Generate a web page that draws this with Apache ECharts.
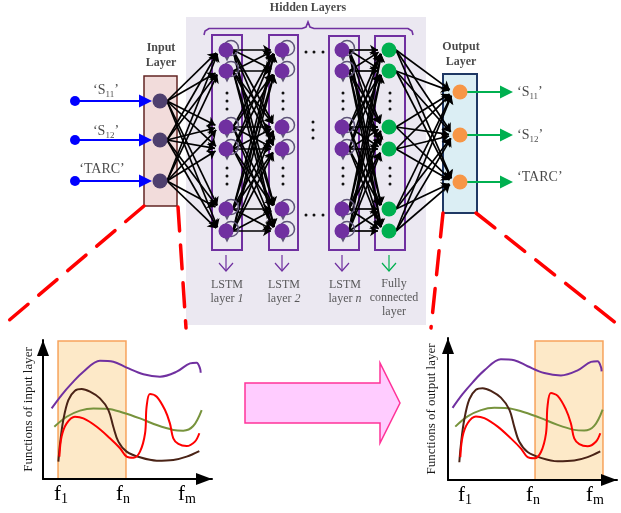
<!DOCTYPE html>
<html><head><meta charset="utf-8">
<script src="https://cdn.jsdelivr.net/npm/echarts@6/dist/echarts.min.js"></script>
<style>html,body{margin:0;padding:0;background:#fff}#c{width:621px;height:513px}</style>
</head><body><div id="c"></div>
<script>
// ---------------- DATA ----------------
const ioSignals = [['S', '11'], ['S', '12'], ['TARC', '']];
const hiddenTitle = 'Hidden Layers';
const inputTitle = ['Input', 'Layer'];
const outputTitle = ['Output', 'Layer'];
const hiddenLayerNames = [['LSTM', 'layer', '1'], ['LSTM', 'layer', '2'], ['LSTM', 'layer', 'n'], ['Fully', 'connected', 'layer']];
const hiddenLayerKinds = ['lstm', 'lstm', 'lstm', 'fc'];
const freqTicks = [['f', '1'], ['f', 'n'], ['f', 'm']];
const inputAxisName = 'Functions of input layer';
const outputAxisName = 'Functions of output layer';
const inputTickAt = [10.7, 47.3, 85.2];
const outputTickAt = [12.5, 52.7, 89.4];
const inputWindow = [8.9, 49.1, 99.3];
const outputWindow = [53.9, 94.1, 97.9];

const curvePurple = [[5.1,50.8],[11.0,60.4],[17.0,68.8],[23.9,77.2],[33.7,85.1],[41.6,84.4],[49.5,80.1],[59.4,75.3],[69.2,73.6],[79.1,77.2],[87.0,83.2],[90.9,83.7],[92.9,79.6],[93.3,76.5]];
const curveGreen = [[6.7,37.6],[14.0,44.8],[21.9,49.2],[29.8,50.8],[37.7,50.6],[47.5,47.7],[57.4,43.6],[67.3,38.8],[77.1,35.3],[83.0,34.8],[88.9,38.1],[93.9,49.6]];
const curveBrown = [[9.1,12.5],[10.1,25.7],[12.0,42.4],[15.0,56.8],[18.9,63.5],[22.9,64.7],[27.8,62.8],[33.7,58.0],[38.7,49.6],[41.6,37.6],[44.6,26.9],[49.5,19.7],[57.4,15.6],[67.3,13.2],[77.1,13.7],[85.0,16.1],[92.5,20.1]];
const curveRed = [[9.7,16.1],[11.0,30.5],[14.0,40.0],[18.9,44.8],[23.9,43.6],[31.8,37.6],[39.6,29.3],[45.6,22.1],[49.5,16.1],[53.5,15.3],[57.4,19.7],[60.4,32.9],[61.3,52.0],[63.3,61.2],[67.3,59.2],[72.2,49.6],[75.1,40.0],[77.1,29.3],[80.1,25.2],[85.0,23.7],[89.9,26.9],[92.5,32.9]];

// ---------------- LAYOUT ----------------
const FONT = '"Liberation Serif", "Times New Roman", serif';
const L = {
  panel: [[186, 17], [426, 325]],
  inBox: [[144, 76], [177, 206]],
  outBox: [[443, 74], [477, 213]],
  inX: 160, inY: [101, 140, 181],
  outX: 460, outY: [92, 135, 182],
  srcX: 75, inTip: 152, outFrom: 467, outTip: 513,
  colX: [226, 282, 342, 389],
  colBox: [[[212, 35], [242, 250]], [[269, 35], [298, 250]], [[329, 36], [359, 250]], [[375, 36], [405, 250]]],
  nodeY: [50, 71, 127, 149, 209, 231],
  r: 7,
  dotsY: [93, 101, 109, 168, 176, 184],
  midDots: [[306, 52], [314, 52], [323, 52], [313, 122], [313, 130], [313, 138], [306, 215], [314, 215], [323, 215]],
  chevTop: 255, chevBot: 271,
  labelX: [227, 284, 345, 394],
  labelY: [285, 299, 313],
  inLabel: [[106, 90], [106, 131], [102, 169]],
  outLabelX: 517, outLabelY: [92, 135, 177],
  bigArrow: [[245, 383], [380, 383], [380, 363], [400, 403], [380, 443], [380, 423], [245, 423]],
  brace: [[204, 35], [205, 31], [209, 28.5], [302, 28.5], [306, 27], [308, 22], [310, 27], [314, 28.5], [408, 28.5], [412, 31], [413, 35]],
  red: [[[144, 206], [0, 328]], [[178, 207], [186, 328]], [[443, 213], [431, 328]], [[476, 213], [621, 327]]]
};
const COL = { lstm: '#7030a0', fc: '#00b050', inNode: '#4f406e', outNode: '#f79646', loop: '#5e5478' };

// ---------------- BUILD ----------------
const OV = { xAxisIndex: 2, yAxisIndex: 2 };
const backShapes = [];
backShapes.push({ kind: 'rect', pts: L.panel, style: { fill: '#ebe8f1' } });
backShapes.push({ kind: 'rect', pts: L.inBox, style: { fill: '#f2dcdb', stroke: '#632523', lineWidth: 1.5 } });
backShapes.push({ kind: 'rect', pts: L.outBox, style: { fill: '#dbeef4', stroke: '#1f3864', lineWidth: 2 } });
L.colBox.forEach(b => backShapes.push({ kind: 'rect', pts: b, style: { fill: null, stroke: '#7030a0', lineWidth: 2 } }));
backShapes.push({ kind: 'polyline', pts: L.brace, style: { fill: null, stroke: '#7030a0', lineWidth: 1.6 } });
L.colX.forEach((x, i) => {
  const c = hiddenLayerKinds[i] === 'fc' ? COL.fc : COL.lstm;
  backShapes.push({ kind: 'polyline', pts: [[x, L.chevTop], [x, L.chevBot]], style: { fill: null, stroke: c, lineWidth: 1.2 } });
  backShapes.push({ kind: 'polyline', pts: [[x - 7, L.chevBot - 8], [x, L.chevBot], [x + 7, L.chevBot - 8]], style: { fill: null, stroke: c, lineWidth: 1.2 } });
});
backShapes.push({ kind: 'polygon', pts: L.bigArrow, style: { fill: '#ffccff', stroke: '#ff3399', lineWidth: 1.5 } });

function shapeRender(list) {
  return function (params, api) {
    const s = list[params.dataIndex];
    const pts = s.pts.map(p => api.coord(p));
    if (s.kind === 'rect') {
      return { type: 'rect', shape: { x: pts[0][0], y: pts[0][1], width: pts[1][0] - pts[0][0], height: pts[1][1] - pts[0][1] }, style: s.style };
    }
    return { type: s.kind, shape: { points: pts }, style: s.style };
  };
}

const AS = 8;
function connect(xs, ysArr, xt, ytArr) {
  const out = [];
  ysArr.forEach(ys => ytArr.forEach(yt => {
    const x0 = xs + L.r, x1 = xt - L.r;
    const dx = x1 - x0, dy = yt - ys, len = Math.hypot(dx, dy);
    out.push({ coords: [[x0, ys], [x1 - dx / len * AS / 2, yt - dy / len * AS / 2]] });
  }));
  return out;
}
const edges = [].concat(
  connect(L.inX, L.inY, L.colX[0], L.nodeY),
  connect(L.colX[0], L.nodeY, L.colX[1], L.nodeY),
  connect(L.colX[2], L.nodeY, L.colX[3], L.nodeY),
  connect(L.colX[3], L.nodeY, L.outX, L.outY)
);
const TS = 13;
const blueArrows = L.inY.map(y => ({ coords: [[L.srcX, y], [L.inTip - TS / 2, y]] }));
const greenArrows = L.outY.map(y => ({ coords: [[L.outFrom, y], [L.outTip - TS / 2, y]] }));

const nodes = [], loops = [], loopTips = [], dots = [];
L.inY.forEach(y => nodes.push({ value: [L.inX, y], itemStyle: { color: COL.inNode } }));
L.outY.forEach(y => nodes.push({ value: [L.outX, y], itemStyle: { color: COL.outNode } }));
L.colX.forEach((x, i) => {
  const kind = hiddenLayerKinds[i];
  L.nodeY.forEach(y => {
    nodes.push({ value: [x, y], itemStyle: { color: kind === 'fc' ? COL.fc : COL.lstm } });
    if (kind === 'lstm') { loops.push([x + 5, y - 2]); loopTips.push([x + 1, y + 9]); }
  });
  L.dotsY.forEach(y => dots.push([x + 1, y]));
});
L.midDots.forEach(p => dots.push(p));

function sig(s) { return '{mn|\u2018' + s[0] + '}' + (s[1] ? '{sb|' + s[1] + '}' : '') + '{mn|\u2019}'; }
const texts = [];
texts.push({ value: [308, 8], label: { formatter: '{hb|' + hiddenTitle + '}' } });
texts.push({ value: [161, 48], label: { formatter: '{hb|' + inputTitle[0] + '}' } });
texts.push({ value: [161, 63], label: { formatter: '{hb|' + inputTitle[1] + '}' } });
texts.push({ value: [461, 47], label: { formatter: '{hb|' + outputTitle[0] + '}' } });
texts.push({ value: [461, 62], label: { formatter: '{hb|' + outputTitle[1] + '}' } });
ioSignals.forEach((s, i) => {
  texts.push({ value: L.inLabel[i], label: { formatter: sig(s) } });
  texts.push({ value: [L.outLabelX, L.outLabelY[i]], label: { formatter: sig(s), align: 'left' } });
});
hiddenLayerNames.forEach((n, i) => {
  const x = L.labelX[i];
  if (hiddenLayerKinds[i] === 'lstm') {
    texts.push({ value: [x, L.labelY[0]], label: { formatter: '{tx|' + n[0] + '}' } });
    texts.push({ value: [x, L.labelY[1]], label: { formatter: '{tx|' + n[1] + ' }{it|' + n[2] + '}' } });
  } else {
    n.forEach((t, k) => texts.push({ value: [x, L.labelY[k] - 1], label: { formatter: '{tx|' + t + '}' } }));
  }
});

function plotAxes(gi, ticksAt, xmin, name, gap) {
  const arrowLine = { show: true, onZero: true, lineStyle: { color: '#000', width: 2 }, symbol: ['none', 'triangle'], symbolSize: [12, 16], symbolOffset: [0, -8] };
  return {
    x: {
      type: 'value', gridIndex: gi, min: xmin, max: xmin + 100, z: 3,
      axisLine: arrowLine, axisTick: { show: false }, splitLine: { show: false },
      axisLabel: {
        show: true, customValues: ticksAt, margin: 3, color: '#000',
        formatter: function (v) {
          let i = 0, best = 1e9;
          ticksAt.forEach((t, k) => { if (Math.abs(t - v) < best) { best = Math.abs(t - v); i = k; } });
          return '{ff|' + freqTicks[i][0] + '}{fs|' + freqTicks[i][1] + '}';
        },
        rich: {
          ff: { fontSize: 21, fontFamily: FONT, lineHeight: 24, color: '#000' },
          fs: { fontSize: 14, fontFamily: FONT, lineHeight: 14, verticalAlign: 'bottom', color: '#000' }
        }
      }
    },
    y: {
      type: 'value', gridIndex: gi, min: 0, max: 100, z: 3,
      axisLine: arrowLine, axisTick: { show: false }, splitLine: { show: false }, axisLabel: { show: false },
      name: name, nameLocation: 'middle', nameRotate: 90, nameGap: gap,
      nameTextStyle: { fontFamily: FONT, fontSize: 13, color: '#1a1a1a' }
    }
  };
}
const A0 = plotAxes(0, inputTickAt, 0, inputAxisName, 8);
const A1 = plotAxes(1, outputTickAt, 2.4, outputAxisName, 10);

function windowSeries(xi, w) {
  return {
    type: 'custom', xAxisIndex: xi, yAxisIndex: xi, z: 1, silent: true, data: [[0, 0]],
    renderItem: function (params, api) {
      const a = api.coord([w[0], w[2]]), b = api.coord([w[1], 0]);
      return { type: 'rect', shape: { x: a[0], y: a[1], width: b[0] - a[0], height: b[1] - a[1] }, style: { fill: '#fde9c8', stroke: '#f7a35c', lineWidth: 1.5 } };
    }
  };
}
function curveSeries(xi) {
  const defs = [[curvePurple, '#7030a0'], [curveGreen, '#77933c'], [curveBrown, '#4a2316'], [curveRed, '#ff0000']];
  return defs.map(d => ({
    type: 'line', xAxisIndex: xi, yAxisIndex: xi, z: 4, data: d[0], smooth: 0.35, showSymbol: false, silent: true,
    lineStyle: { color: d[1], width: 2 }
  }));
}

const option = {
  animation: false,
  backgroundColor: '#ffffff',
  tooltip: { show: false },
  grid: [
    { left: 43, top: 340, width: 169, height: 139, containLabel: false },
    { left: 448, top: 338, width: 169, height: 142, containLabel: false },
    { left: 0, top: 0, width: 621, height: 513, containLabel: false }
  ],
  xAxis: [A0.x, A1.x, { type: 'value', gridIndex: 2, min: 0, max: 621, show: false }],
  yAxis: [A0.y, A1.y, { type: 'value', gridIndex: 2, min: 0, max: 513, inverse: true, show: false }],
  series: [
    Object.assign({ type: 'custom', z: 1, silent: true, data: backShapes.map(() => [0, 0]), renderItem: shapeRender(backShapes) }, OV),
    windowSeries(0, inputWindow),
    windowSeries(1, outputWindow),
    ...curveSeries(0),
    ...curveSeries(1),
    Object.assign({ type: 'lines', coordinateSystem: 'cartesian2d', z: 2, silent: true, symbol: ['none', 'arrow'], symbolSize: [0, AS],
      lineStyle: { color: '#000', width: 1.7, opacity: 1, curveness: 0 }, data: edges }, OV),
    Object.assign({ type: 'lines', coordinateSystem: 'cartesian2d', z: 2, silent: true, symbol: ['circle', 'triangle'], symbolSize: [10, TS],
      lineStyle: { color: '#0000ff', width: 2.2, opacity: 1 }, data: blueArrows }, OV),
    Object.assign({ type: 'lines', coordinateSystem: 'cartesian2d', z: 2, silent: true, symbol: ['none', 'triangle'], symbolSize: [0, TS],
      lineStyle: { color: '#00b050', width: 2.2, opacity: 1 }, data: greenArrows }, OV),
    Object.assign({ type: 'scatter', z: 3, silent: true, symbol: 'circle', symbolSize: 15, data: loops,
      itemStyle: { color: 'rgba(0,0,0,0)', borderColor: COL.loop, borderWidth: 1.5, opacity: 1 } }, OV),
    Object.assign({ type: 'scatter', z: 3, silent: true, symbol: 'triangle', symbolRotate: 180, symbolSize: 5, data: loopTips,
      itemStyle: { color: COL.loop, opacity: 1 } }, OV),
    Object.assign({ type: 'scatter', z: 4, silent: true, symbol: 'circle', symbolSize: 15, data: nodes, itemStyle: { opacity: 1 } }, OV),
    Object.assign({ type: 'scatter', z: 4, silent: true, symbol: 'circle', symbolSize: 3, data: dots, itemStyle: { color: '#111', opacity: 1 } }, OV),
    Object.assign({ type: 'scatter', z: 5, silent: true, symbolSize: 0, data: texts,
      label: { show: true, position: 'inside', align: 'center', verticalAlign: 'middle', color: '#1a1a1a',
        rich: {
          hb: { fontFamily: FONT, fontSize: 12, fontWeight: 'bold', color: '#1a1a1a' },
          mn: { fontFamily: FONT, fontSize: 14, lineHeight: 18, color: '#1a1a1a' },
          sb: { fontFamily: FONT, fontSize: 9, lineHeight: 9, verticalAlign: 'bottom', color: '#1a1a1a' },
          tx: { fontFamily: FONT, fontSize: 12, color: '#333' },
          it: { fontFamily: FONT, fontSize: 12, fontStyle: 'italic', color: '#333' }
        } } }, OV),
    Object.assign({ type: 'lines', coordinateSystem: 'cartesian2d', z: 6, silent: true, symbol: ['none', 'none'],
      lineStyle: { color: '#ff0000', width: 3.5, opacity: 1, type: [24, 14], cap: 'round' }, data: L.red.map(c => ({ coords: c })) }, OV)
  ]
};
const chart = echarts.init(document.getElementById('c'), null, { renderer: 'canvas' });
chart.setOption(option);
</script></body></html>
